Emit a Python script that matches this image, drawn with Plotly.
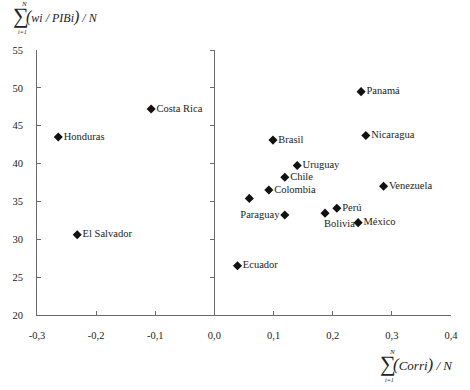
import plotly.graph_objects as go

countries = ["Costa Rica", "Honduras", "El Salvador", "Panamá", "Brasil", "Nicaragua",
             "Uruguay", "Chile", "Colombia", "", "Paraguay", "Venezuela", "Perú",
             "Bolivia", "México", "Ecuador"]
corr = [-0.107, -0.264, -0.232, 0.248, 0.099, 0.256,
        0.140, 0.119, 0.092, 0.059, 0.119, 0.286, 0.207,
        0.187, 0.243, 0.039]
wi_pib = [47.2, 43.5, 30.6, 49.5, 43.1, 43.7,
          39.75, 38.2, 36.5, 35.4, 33.2, 37.0, 34.1,
          33.45, 32.2, 26.5]

x_ticks = [-0.3, -0.2, -0.1, 0.0, 0.1, 0.2, 0.3, 0.4]
x_ticktext = ["-0,3", "-0,2", "-0,1", "0,0", "0,1", "0,2", "0,3", "0,4"]
y_ticks = [20, 25, 30, 35, 40, 45, 50, 55]

W, H = 470, 390
L, R, T, B = 36, 17, 50, 75
PW, PH = W - L - R, H - T - B

def px(xp):
    return (xp - L) / PW

def py(yp):
    return (H - B - yp) / PH

SERIF = "Liberation Serif"
AX = "#6a6a6a"
TXT = "#222"

labels = [c if c != "Bolivia" else "" for c in countries]
positions = ["middle left" if c == "Paraguay" else "middle right" for c in countries]

fig = go.Figure()
fig.add_trace(go.Scatter(
    x=corr, y=wi_pib, mode="markers+text", text=labels,
    textposition=positions,
    marker=dict(symbol="diamond", size=7, color="#111"),
    textfont=dict(family=SERIF, size=10.5, color=TXT),
    showlegend=False, hoverinfo="skip", cliponaxis=False,
))
# dummy trace for the zero axis
fig.add_trace(go.Scatter(x=[0], y=[20], yaxis="y2", mode="markers",
                         marker=dict(opacity=0), showlegend=False, hoverinfo="skip"))

bi = countries.index("Bolivia")
fig.add_annotation(x=corr[bi], y=wi_pib[bi], text="Bolivia", showarrow=False,
                   xanchor="left", yanchor="middle", xshift=-3, yshift=-10,
                   font=dict(family=SERIF, size=10.5, color=TXT))

fig.update_layout(
    width=W, height=H, autosize=False,
    margin=dict(l=L, r=R, t=T, b=B),
    paper_bgcolor="white", plot_bgcolor="white",
    font=dict(family=SERIF),
    xaxis=dict(range=[-0.3, 0.4], tickvals=x_ticks, ticktext=x_ticktext,
               showgrid=False, zeroline=False, showline=True, linecolor=AX, linewidth=1,
               ticks="inside", ticklen=4, tickcolor=AX, ticklabelstandoff=10,
               tickfont=dict(family=SERIF, size=10.5, color=TXT), fixedrange=True),
    yaxis=dict(range=[20, 55], tickvals=y_ticks,
               showgrid=False, zeroline=False, showline=True, linecolor=AX, linewidth=1,
               ticks="inside", ticklen=4, tickcolor=AX, ticklabelstandoff=11,
               tickfont=dict(family=SERIF, size=10.5, color=TXT), fixedrange=True),
    yaxis2=dict(range=[20, 55], tickvals=y_ticks, overlaying="y", anchor="free",
                position=0.3 / 0.7, side="left", showgrid=False, zeroline=False,
                showline=True, linecolor=AX, linewidth=1, ticks="outside", ticklen=4,
                tickcolor=AX, showticklabels=False, fixedrange=True),
)

def ann(text, xp, yp, size, italic=False, xanchor="center"):
    if italic:
        text = "<i>" + text + "</i>"
    fig.add_annotation(text=text, x=px(xp), y=py(yp), xref="paper", yref="paper",
                       xanchor=xanchor, yanchor="middle", showarrow=False, borderpad=0,
                       font=dict(family=SERIF, size=size, color=TXT))

# y-axis title formula
ann("∑", 20, 15, 22)
ann("N", 22.5, 4.5, 7, italic=True)
ann("i=1", 21, 32, 6, italic=True)
ann('<span style="font-size:16px">(</span>wi / PIBi<span style="font-size:16px">)</span> / N',
    24, 17, 12, italic=True, xanchor="left")

# x-axis title formula
ann("∑", 389.5, 363, 22)
ann("N", 393.5, 351.5, 7, italic=True)
ann("i=1", 391.5, 380, 6, italic=True)
ann('<span style="font-size:17px">(</span>Corri<span style="font-size:17px">)</span> / N',
    394, 364, 13, italic=True, xanchor="left")

fig.write_html("out.html", config={"displayModeBar": False},
               post_script="document.body.style.margin='0px';document.body.style.padding='0px';")
